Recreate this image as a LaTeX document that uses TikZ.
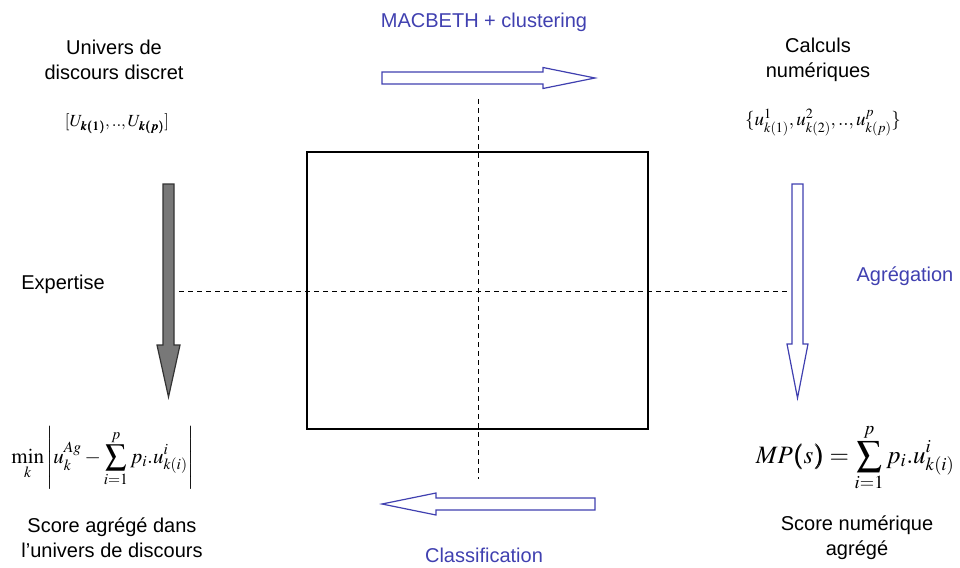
\documentclass[tikz,border=0pt]{standalone}
\usepackage{mathptmx}
\usepackage{bm}
\usepackage{fontspec}
\setmainfont{Liberation Sans}
\definecolor{bleuflux}{RGB}{64,64,176}
\definecolor{grisfleche}{RGB}{120,120,120}

\begin{document}
\begin{tikzpicture}[x=1pt, y=-1pt, line join=miter,
    etiq/.style={inner sep=0pt, align=center, font=\fontsize{20}{25}\selectfont},
    etiqbleu/.style={etiq, text=bleuflux},
    formule/.style={inner sep=0pt, font=\fontsize{21}{25}\selectfont},
    axe/.style={line width=1pt, dash pattern=on 5pt off 4pt},
    flechebleue/.style={draw=bleuflux, line width=1.2pt, fill=white},
    flechegrise/.style={draw=black!80, line width=1.2pt, fill=grisfleche}]

  %% ════ axes pointillés ════
  \coordinate (axeN) at (478,99);
  \coordinate (axeS) at (478,479);
  \coordinate (axeO) at (179,291);
  \coordinate (axeE) at (787,291);
  \draw[axe] (axeN) -- (axeS);
  \draw[axe] (axeO) -- (axeE);

  %% ════ cadre central ════
  \node[draw, line width=1.3pt, minimum width=341pt, minimum height=277pt, inner sep=0pt, fill=none] (cadre) at (477.5,290.5) {};

  %% ════ flèches (polygones) ════
  % haut : MACBETH + clustering
  \draw[flechebleue] (382,72) -- (543,72) -- (543,67.5) -- (595,78) -- (543,88.5) -- (543,84) -- (382,84) -- cycle;
  % bas : classification
  \draw[flechebleue] (595,498) -- (436,498) -- (436,493) -- (382,504) -- (436,515) -- (436,510) -- (595,510) -- cycle;
  % gauche : expertise
  \draw[flechegrise] (163,184) -- (174,184) -- (174,345) -- (180,345) -- (168.5,397) -- (157,345) -- (163,345) -- cycle;
  % droite : agrégation
  \draw[flechebleue] (792,184) -- (803,184) -- (803,344) -- (808,344) -- (797.5,398) -- (787,344) -- (792,344) -- cycle;

  %% ════ textes ════
  \node[etiqbleu] (titre) at (484,22) {MACBETH + clustering};
  \node[etiq] (univers) at (114,59.5) {Univers de\\discours discret};
  \node[etiq] (calculs) at (818,59.5) {Calculs\\numériques};
  \node[etiq] (expertise) at (63,284) {Expertise};
  \node[etiqbleu] (agregation) at (905,276) {Agrégation};
  \node[etiq] (scoreagr) at (112,537.5) {Score agrégé dans\\l'univers de discours};
  \node[etiq] (scorenum) at (857,537.5) {Score numérique\\agrégé};
  \node[etiqbleu] (classif) at (484,555) {Classification};

  %% ════ formules ════
  \node[formule, font=\fontsize{17}{20}\selectfont] (discret) at (117,124) {$[U_{\bm{k(1)}},..,U_{\bm{k(p)}}]$};
  \node[formule, font=\fontsize{19}{22}\selectfont] (numerique) at (823,123) {$\{u^1_{k(1)},u^2_{k(2)},..,u^p_{k(p)}\}$};
  \node[formule] (minscore) at (103,458) {$\displaystyle\min_k \left|u_k^{Ag}-\sum_{i=1}^{p}p_i.u_{k(i)}^i\right|$};
  \node[formule, font=\fontsize{25}{30}\selectfont] (mps) at (855,458) {$\displaystyle MP\bm{(}s\bm{)}=\sum_{i=1}^{p}p_i.u_{k(i)}^i$};

  % cadre de la page
  \pgfresetboundingbox
  \path[use as bounding box] (0,0) rectangle (960,567);
\end{tikzpicture}
\end{document}
